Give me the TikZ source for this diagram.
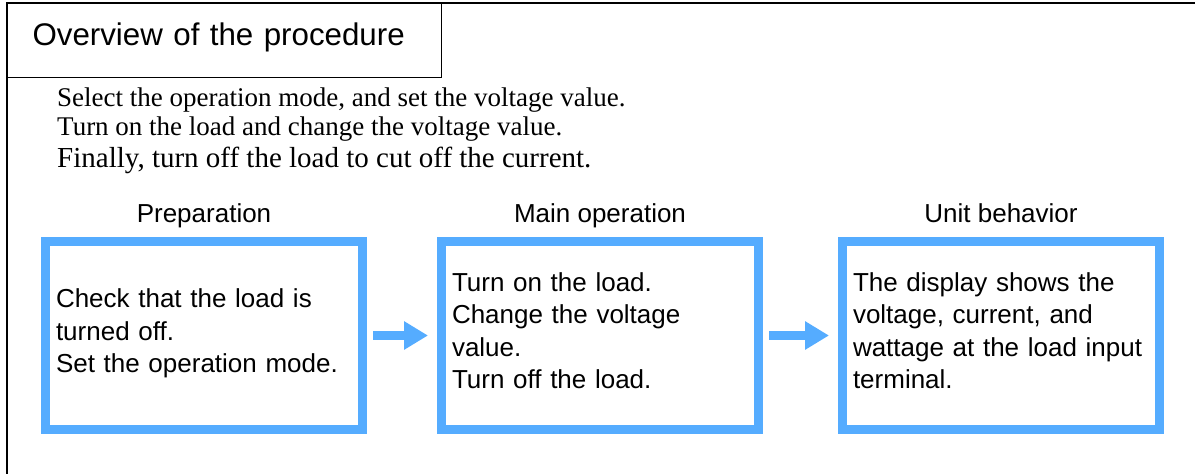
\documentclass[tikz,border=0pt]{standalone}
\usepackage{fontspec}
\setmainfont{Liberation Serif}
\setsansfont{Liberation Sans}
\usetikzlibrary{arrows.meta, positioning}
\definecolor{stepblue}{RGB}{85, 172, 255}

\begin{document}
\begin{tikzpicture}[
  x=1pt, y=1pt,
  node distance=70pt,
  frame/.style={draw=black, line width=1.2pt},
  titlebox/.style={rectangle, draw=black, line width=1.2pt,
              minimum width=434pt, minimum height=74pt, text width=384pt,
              inner xsep=25pt, align=left, text depth=12pt,
              font=\sffamily\fontsize{31.3}{38}\selectfont},
  intro/.style={anchor=base west, inner sep=0pt,
              font=\fontsize{27}{32}\selectfont},
  stepbox/.style={rectangle, draw=stepblue, line width=9pt,
              minimum width=317pt, minimum height=188pt, text width=296pt,
              inner xsep=10.5pt, align=left, execute at end node=\strut,
              font=\sffamily\fontsize{26}{32.5}\selectfont},
  head/.style={font=\sffamily\fontsize{26}{30}\selectfont, inner sep=0pt},
  arrow/.style={-{Triangle[width=27pt, length=24pt]}, line width=9pt,
              draw=stepblue, shorten <=6pt, shorten >=9pt},
]
  \useasboundingbox (0,0) rectangle (1195,-474);

  % Frame and title
  \coordinate (corner) at (7,-3);
  \draw[frame] (1195,-3) -- (corner) -- (7,-474);
  \node[titlebox] (title) at (224.5,-40.5) {Overview of the procedure};

  % Summary lines
  \node[intro] (intro1) at (57,-106) {Select the operation mode, and set the voltage value.};
  \node[intro] (intro2) at (57,-135) {Turn on the load and change the voltage value.};
  \node[intro, font=\fontsize{29}{34}\selectfont] (intro3) at (57,-167)
    {Finally, turn off the load to cut off the current.};

  % Steps
  \node[stepbox] (prep) at (204,-335.5)
    {Check that the load is\\turned off.\\Set the operation mode.};
  \node[stepbox, right=of prep] (main)
    {Turn on the load.\\Change the voltage\\value.\\Turn off the load.};
  \node[stepbox, right=75pt of main] (unit)
    {The display shows the\\voltage, current, and\\wattage at the load input\\terminal.};

  % Step headings
  \node[head, above=15pt of prep, anchor=base] (prephead) {Preparation};
  \node[head, above=15pt of main, anchor=base] (mainhead) {Main operation};
  \node[head, above=15pt of unit, anchor=base] (unithead) {Unit behavior};

  % Arrows
  \draw[arrow] (prep) -- (main);
  \draw[arrow] (main) -- (unit);
\end{tikzpicture}
\end{document}
